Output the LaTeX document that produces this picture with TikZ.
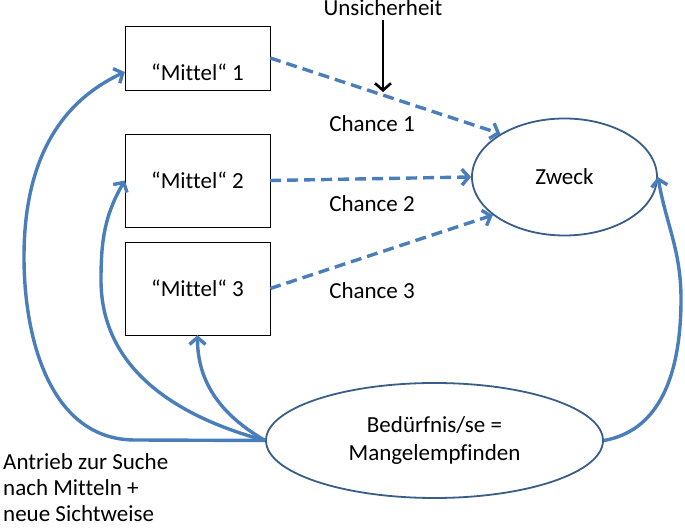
\documentclass[tikz,border=0pt]{standalone}
\usepackage{fontspec}
\setmainfont[Ligatures=NoCommon]{Carlito}
\usetikzlibrary{arrows.meta,shapes,positioning,calc}
\definecolor{linkblue}{HTML}{4A7EBB}
\definecolor{rimblue}{HTML}{385D8A}

\begin{document}
\begin{tikzpicture}[x=1pt, y=1pt, font=\fontsize{23}{28}\selectfont,
    >={Straight Barb[length=7pt,width=16pt]},
    box/.style={draw, thin, minimum width=145pt, inner sep=0pt},
    oval/.style={ellipse, draw=rimblue, line width=1.8pt, inner sep=0pt},
    chance/.style={->, linkblue, line width=3.4pt, dash pattern=on 11pt off 6pt},
    drive/.style={->, linkblue, line width=3.4pt}]
    \useasboundingbox (0,0) rectangle (685,529);

    % Mittel
    \node[box, minimum height=64pt] (m1) at (197.5,471) {};
    \node (t1) at (197.5,457) {“Mittel“ 1};
    \node[box, minimum height=93pt] (m2) at (197.5,348.5) {“Mittel“ 2};
    \node[box, minimum height=93pt] (m3) at (197.5,240.5) {“Mittel“ 3};

    % Zweck and Beduerfnis
    \node[oval, minimum width=185pt, minimum height=117pt] (zw) at (564.5,352) {Zweck};
    \node[oval, minimum width=337pt, minimum height=115pt, align=center] (bd) at (434.5,88.5)
        {Bedürfnis/se =\\Mangelempfinden};

    % Chancen
    \draw[chance] (m1.east) -- (zw.146);
    \draw[chance] (m2.east) -- (zw.west);
    \draw[chance] (m3.east) -- (zw.208);
    \node (c1) at (372,405) {Chance 1};
    \node (c2) at (372,325) {Chance 2};
    \node (c3) at (372,238) {Chance 3};

    % Unsicherheit
    \node[anchor=base] (un) at (383,513) {Unsicherheit};
    \coordinate (hit) at (383,437);
    \draw[->, line width=2.6pt] (un) -- (hit);

    % Antrieb zur Suche
    \draw[drive] (bd.west) -- (135,89) to[out=180,in=270] (24,272)
        to[out=90,in=205] ($(m1.west)+(0,-14)$);
    \draw[drive] (bd.west) to[out=165,in=270] (101,249) to[out=90,in=240] (m2.west);
    \draw[drive] (bd.west) to[out=150,in=270] (m3.south);
    \draw[drive] (bd.east) to[out=10,in=270] (681,230) to[out=90,in=-80] (zw.east);

    \node[anchor=north west, inner sep=0pt, align=left, font=\fontsize{23}{26}\selectfont]
        (drv) at (3,75.5) {Antrieb zur Suche\\nach Mitteln +\\neue Sichtweise};
\end{tikzpicture}
\end{document}
